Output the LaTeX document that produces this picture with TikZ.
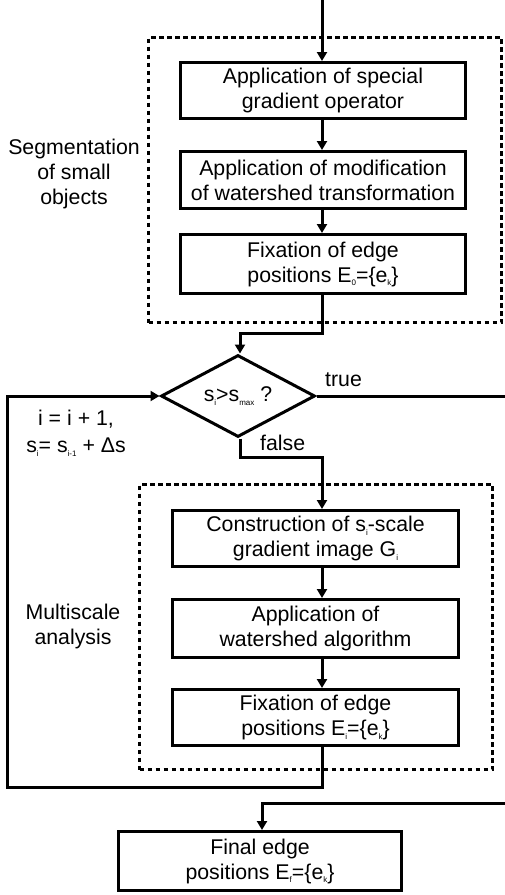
\documentclass[tikz,border=0pt]{standalone}
\usepackage{fontspec}
\setmainfont{Liberation Sans}
\usetikzlibrary{arrows.meta,shapes.geometric}
\newcommand\mysub[1]{\raisebox{-0.35ex}{\fontsize{8}{8}\selectfont #1}}
\begin{document}
\begin{tikzpicture}[x=1pt,y=-1pt,
  font=\fontsize{21.3}{25}\selectfont,
  arr/.style={line width=3pt,-{Triangle[length=9pt,width=10pt]}},
  procbox/.style={draw,line width=3pt,inner sep=0pt,align=center},
  dashbox/.style={draw,line width=3pt,dash pattern=on 4.5pt off 3.5pt},
  lbl/.style={align=center,inner sep=0pt}]
\useasboundingbox (0,0) rectangle (505,895);
\clip (0,0) rectangle (505,895);
\coordinate (colx) at (322,0);
\coordinate (top) at (322,0);
% dashed groups
\node[dashbox,minimum width=353pt,minimum height=285pt] (grp1) at (325,180) {};
\node[dashbox,minimum width=353pt,minimum height=285pt] (grp2) at (316,627) {};
% boxes
\node[procbox,minimum width=285pt,minimum height=56pt] (b1) at (323,90.5) {Application of special\\gradient operator};
\node[procbox,minimum width=285pt,minimum height=57pt] (b2) at (323,180) {Application of modification\\of watershed transformation};
\node[procbox,minimum width=285pt,minimum height=59pt] (b3) at (323,264) {Fixation of edge\\positions E\mysub{0}=\{e\mysub{k}\}};
\node[draw,diamond,line width=3pt,inner sep=0pt,minimum width=154pt,minimum height=82pt,aspect=1.857] (dec) at (238,396) {s\mysub{i}>s\mysub{max} ?};
\node[procbox,minimum width=286pt,minimum height=56pt] (b4) at (315.5,538.5) {Construction of s\mysub{i}-scale\\gradient image G\mysub{i}};
\node[procbox,minimum width=286pt,minimum height=58pt] (b5) at (315.5,628.5) {Application of\\watershed algorithm};
\node[procbox,minimum width=286pt,minimum height=56pt] (b6) at (315.5,717.5) {Fixation of edge\\positions E\mysub{i}=\{e\mysub{k}\}};
\node[procbox,minimum width=283pt,minimum height=59pt] (b7) at (260,861) {Final edge\\positions E\mysub{f}=\{e\mysub{k}\}};
% labels
\node[lbl] (seg) at (74,174) {Segmentation\\of small\\objects};
\node[lbl] (msa) at (73,626) {Multiscale\\analysis};
\node[lbl,anchor=west] (tr) at (325,380) {true};
\node[lbl,anchor=west] (fa) at (260,443) {false};
\node[lbl,font=\fontsize{21.3}{27}\selectfont] (upd) at (76,433) {i = i + 1,\\s\mysub{i}= s\mysub{i-1} + Δs};
% coordinates
\coordinate (m1) at (322,333);
\coordinate (m2) at (240,333);
\coordinate (f1) at (240,457);
\coordinate (f2) at (322,457);
\coordinate (l1) at (322,787);
\coordinate (l2) at (7,787);
\coordinate (l3) at (7,396);
\coordinate (t1) at (510,396);
\coordinate (t2) at (510,803);
\coordinate (t3) at (262,803);
% connectors
\draw[arr] (top) -- (b1.north -| colx);
\draw[arr] (b1.south -| colx) -- (b2.north -| colx);
\draw[arr] (b2.south -| colx) -- (b3.north -| colx);
\draw[arr] (b3.south -| colx) -- (m1) -- (m2) -- (dec.north -| m2);
\draw[arr] (dec.south -| f1) -- (f1) -- (f2) -- (b4.north -| colx);
\draw[arr] (b4.south -| colx) -- (b5.north -| colx);
\draw[arr] (b5.south -| colx) -- (b6.north -| colx);
\draw[arr] (b6.south -| colx) -- (l1) -- (l2) -- (l3) -- (dec.west);
\draw[arr] (dec.east) -- (t1) -- (t2) -- (t3) -- (b7.north -| t3);
\end{tikzpicture}
\end{document}
